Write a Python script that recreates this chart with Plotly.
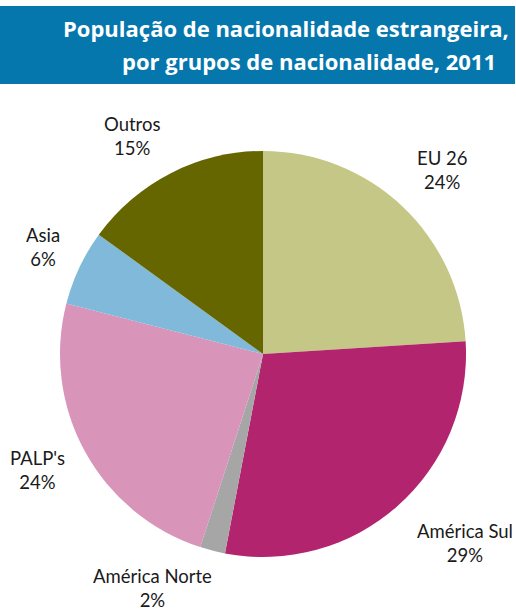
import math
import plotly.graph_objects as go

labels = ["EU 26", "América Sul", "América Norte", "PALP's", "Asia", "Outros"]
values = [24, 29, 2, 24, 6, 15]
colors = ["#c4c785", "#b3246f", "#a6a6a6", "#d994b9", "#80b9d9", "#666600"]
title_lines = ["População de nacionalidade estrangeira,", "por grupos de nacionalidade, 2011"]

W, H = 516, 610
cx, cy, r = 263, 354, 203  # pie centre / radius in px (from top-left)

fig = go.Figure(go.Pie(
    labels=labels, values=values, sort=False, direction="clockwise", rotation=0,
    marker=dict(colors=colors, line=dict(width=0)),
    textinfo="none", hoverinfo="label+percent", showlegend=False,
    domain=dict(x=[(cx - r) / W, (cx + r) / W], y=[1 - (cy + r) / H, 1 - (cy - r) / H]),
))

# outside labels placed at slice mid-angles (with small nudges as in the original)
label_r = 255
nudge = {"EU 26": (5, 2), "América Sul": (33, -2), "América Norte": (-47, -13),
         "PALP's": (-2, -7), "Asia": (11, 2), "Outros": (-15, 9)}
total = sum(values)
cum = 0
for lab, v in zip(labels, values):
    mid = (cum + v / 2) / total * 2 * math.pi
    cum += v
    px = cx + label_r * math.sin(mid)
    py = cy - label_r * math.cos(mid)
    dx, dy = nudge.get(lab, (0, 0))
    px += dx
    py += dy
    fig.add_annotation(
        x=px / W, y=1 - py / H, xref="paper", yref="paper",
        text=f"{lab}<br>{round(v / total * 100)}%", showarrow=False,
        font=dict(family="Lato", size=18.5, color="#1a1a1a"),
        xanchor="center", yanchor="middle", align="center",
    )

# title banner
fig.add_shape(type="rect", xref="paper", yref="paper",
              x0=0, x1=515 / W, y0=1 - 84 / H, y1=1 - 6 / H,
              fillcolor="#0677ad", line=dict(width=0), layer="below")
for line, xr, yc in zip(title_lines, [511, 498], [28, 61]):
    fig.add_annotation(
        x=xr / W, y=1 - yc / H, xref="paper", yref="paper",
        text=f"<b>{line}</b>",
        showarrow=False, xanchor="right", yanchor="middle", align="right",
        font=dict(family="Open Sans", size=22, color="white"),
    )

fig.update_layout(
    width=W, height=H, margin=dict(l=0, r=0, t=0, b=0),
    paper_bgcolor="white", plot_bgcolor="white",
)
fig.write_html("out.html", config={"displayModeBar": False},
               post_script="document.body.style.margin='0';document.body.style.overflow='hidden';")
